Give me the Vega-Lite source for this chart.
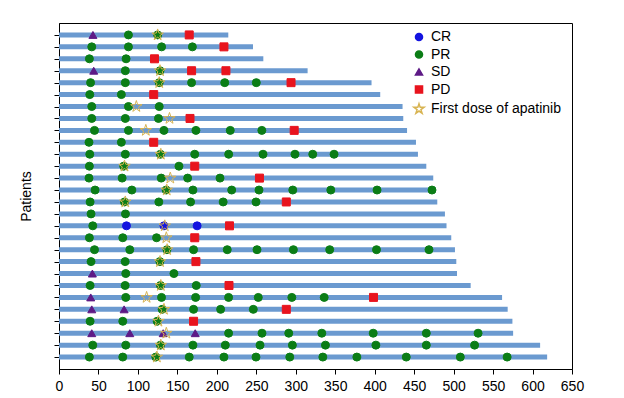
{
  "$schema": "https://vega.github.io/schema/vega-lite/v6.json",
  "width": 513,
  "height": 346,
  "padding": {"left": 19, "top": 23, "right": 10, "bottom": 5},
  "background": "white",
  "config": {
    "view": {"stroke": "black", "strokeWidth": 1},
    "font": "Liberation Sans",
    "axis": {"labelFont": "Liberation Sans", "titleFont": "Liberation Sans", "labelColor": "black", "titleColor": "black", "domainColor": "black", "tickColor": "black", "grid": false, "labelFontSize": 14, "titleFontSize": 14, "titleFontWeight": "normal", "tickSize": 5},
    "legend": {"labelFont": "Liberation Sans", "labelFontSize": 14, "labelColor": "black"}
  },
  "datasets": {
    "bars": [
      {"patient": 1, "end": 214.5}, {"patient": 2, "end": 245.8}, {"patient": 3, "end": 258.9}, {"patient": 4, "end": 315},
      {"patient": 5, "end": 396}, {"patient": 6, "end": 407}, {"patient": 7, "end": 435.3}, {"patient": 8, "end": 436.2},
      {"patient": 9, "end": 441}, {"patient": 10, "end": 452.3}, {"patient": 11, "end": 454.8}, {"patient": 12, "end": 465.4},
      {"patient": 13, "end": 474.2}, {"patient": 14, "end": 477.6}, {"patient": 15, "end": 479.3}, {"patient": 16, "end": 489},
      {"patient": 17, "end": 491}, {"patient": 18, "end": 497}, {"patient": 19, "end": 501.7}, {"patient": 20, "end": 503.4},
      {"patient": 21, "end": 504.3}, {"patient": 22, "end": 521.6}, {"patient": 23, "end": 561.4}, {"patient": 24, "end": 568.5},
      {"patient": 25, "end": 574.5}, {"patient": 26, "end": 575.4}, {"patient": 27, "end": 609.6}, {"patient": 28, "end": 618.5}
    ],
    "marks": [
      {"patient": 1, "day": 43, "type": "SD"}, {"patient": 1, "day": 88, "type": "PR"}, {"patient": 1, "day": 125, "type": "PR"}, {"patient": 1, "day": 165, "type": "PD"},
      {"patient": 2, "day": 41.5, "type": "PR"}, {"patient": 2, "day": 88, "type": "PR"}, {"patient": 2, "day": 130, "type": "PR"}, {"patient": 2, "day": 169, "type": "PR"}, {"patient": 2, "day": 209, "type": "PD"},
      {"patient": 3, "day": 38.5, "type": "PR"}, {"patient": 3, "day": 85, "type": "PR"}, {"patient": 3, "day": 121, "type": "PD"},
      {"patient": 4, "day": 44, "type": "SD"}, {"patient": 4, "day": 84, "type": "PR"}, {"patient": 4, "day": 128, "type": "PR"}, {"patient": 4, "day": 168, "type": "PD"}, {"patient": 4, "day": 211.5, "type": "PD"},
      {"patient": 5, "day": 40, "type": "PR"}, {"patient": 5, "day": 84, "type": "PR"}, {"patient": 5, "day": 127, "type": "PR"}, {"patient": 5, "day": 168, "type": "PR"}, {"patient": 5, "day": 210, "type": "PR"}, {"patient": 5, "day": 250, "type": "PR"}, {"patient": 5, "day": 294, "type": "PD"},
      {"patient": 6, "day": 39, "type": "PR"}, {"patient": 6, "day": 79, "type": "PR"}, {"patient": 6, "day": 120, "type": "PD"},
      {"patient": 7, "day": 41.5, "type": "PR"}, {"patient": 7, "day": 88, "type": "PR"}, {"patient": 7, "day": 127, "type": "PR"},
      {"patient": 8, "day": 41.5, "type": "PR"}, {"patient": 8, "day": 84, "type": "PR"}, {"patient": 8, "day": 126, "type": "PR"}, {"patient": 8, "day": 166, "type": "PD"},
      {"patient": 9, "day": 45, "type": "PR"}, {"patient": 9, "day": 88, "type": "PR"}, {"patient": 9, "day": 133, "type": "PR"}, {"patient": 9, "day": 173.5, "type": "PR"}, {"patient": 9, "day": 217, "type": "PR"}, {"patient": 9, "day": 257, "type": "PR"}, {"patient": 9, "day": 298, "type": "PD"},
      {"patient": 10, "day": 38, "type": "PR"}, {"patient": 10, "day": 79, "type": "PR"}, {"patient": 10, "day": 120, "type": "PD"},
      {"patient": 11, "day": 39, "type": "PR"}, {"patient": 11, "day": 84, "type": "PR"}, {"patient": 11, "day": 128.5, "type": "PR"}, {"patient": 11, "day": 172, "type": "PR"}, {"patient": 11, "day": 215, "type": "PR"}, {"patient": 11, "day": 258.5, "type": "PR"}, {"patient": 11, "day": 299, "type": "PR"}, {"patient": 11, "day": 321.5, "type": "PR"}, {"patient": 11, "day": 348.5, "type": "PR"},
      {"patient": 12, "day": 38.5, "type": "PR"}, {"patient": 12, "day": 82, "type": "PR"}, {"patient": 12, "day": 152, "type": "PR"}, {"patient": 12, "day": 172, "type": "PD"},
      {"patient": 13, "day": 38, "type": "PR"}, {"patient": 13, "day": 80, "type": "PR"}, {"patient": 13, "day": 129.5, "type": "PR"}, {"patient": 13, "day": 163, "type": "PR"}, {"patient": 13, "day": 204, "type": "PR"}, {"patient": 13, "day": 254, "type": "PD"},
      {"patient": 14, "day": 45.7, "type": "PR"}, {"patient": 14, "day": 92.3, "type": "PR"}, {"patient": 14, "day": 135.8, "type": "PR"}, {"patient": 14, "day": 169.7, "type": "PR"}, {"patient": 14, "day": 218.8, "type": "PR"}, {"patient": 14, "day": 253.4, "type": "PR"}, {"patient": 14, "day": 296.2, "type": "PR"}, {"patient": 14, "day": 344.4, "type": "PR"}, {"patient": 14, "day": 403, "type": "PR"}, {"patient": 14, "day": 472.6, "type": "PR"},
      {"patient": 15, "day": 39.4, "type": "PR"}, {"patient": 15, "day": 83, "type": "PR"}, {"patient": 15, "day": 126.5, "type": "PR"}, {"patient": 15, "day": 166.7, "type": "PR"}, {"patient": 15, "day": 208, "type": "PR"}, {"patient": 15, "day": 249.6, "type": "PR"}, {"patient": 15, "day": 288, "type": "PD"},
      {"patient": 16, "day": 40.6, "type": "PR"}, {"patient": 16, "day": 84.2, "type": "PR"},
      {"patient": 17, "day": 42.8, "type": "PR"}, {"patient": 17, "day": 85.5, "type": "CR"}, {"patient": 17, "day": 133, "type": "CR"}, {"patient": 17, "day": 175, "type": "CR"}, {"patient": 17, "day": 216, "type": "PD"},
      {"patient": 18, "day": 38.5, "type": "PR"}, {"patient": 18, "day": 80.8, "type": "PR"}, {"patient": 18, "day": 123.6, "type": "PR"}, {"patient": 18, "day": 172, "type": "PD"},
      {"patient": 19, "day": 45, "type": "PR"}, {"patient": 19, "day": 89.7, "type": "PR"}, {"patient": 19, "day": 136.8, "type": "PR"}, {"patient": 19, "day": 170.5, "type": "PR"}, {"patient": 19, "day": 213.2, "type": "PR"}, {"patient": 19, "day": 250.9, "type": "PR"}, {"patient": 19, "day": 297, "type": "PR"}, {"patient": 19, "day": 343, "type": "PR"}, {"patient": 19, "day": 402.3, "type": "PR"}, {"patient": 19, "day": 468.8, "type": "PR"},
      {"patient": 20, "day": 40.6, "type": "PR"}, {"patient": 20, "day": 83.8, "type": "PR"}, {"patient": 20, "day": 127.8, "type": "PR"}, {"patient": 20, "day": 173.5, "type": "PD"},
      {"patient": 21, "day": 42.3, "type": "SD"}, {"patient": 21, "day": 84.6, "type": "PR"}, {"patient": 21, "day": 145.6, "type": "PR"},
      {"patient": 22, "day": 39.4, "type": "PR"}, {"patient": 22, "day": 83.8, "type": "PR"}, {"patient": 22, "day": 128.6, "type": "PR"}, {"patient": 22, "day": 173.9, "type": "PR"}, {"patient": 22, "day": 215.4, "type": "PD"},
      {"patient": 23, "day": 40.2, "type": "SD"}, {"patient": 23, "day": 84.6, "type": "PR"}, {"patient": 23, "day": 129.9, "type": "PR"}, {"patient": 23, "day": 173.1, "type": "PR"}, {"patient": 23, "day": 214.9, "type": "PR"}, {"patient": 23, "day": 252.5, "type": "PR"}, {"patient": 23, "day": 295, "type": "PR"}, {"patient": 23, "day": 336, "type": "PR"}, {"patient": 23, "day": 398.5, "type": "PD"},
      {"patient": 24, "day": 41.5, "type": "SD"}, {"patient": 24, "day": 82.5, "type": "SD"}, {"patient": 24, "day": 130.7, "type": "PR"}, {"patient": 24, "day": 170.5, "type": "PR"}, {"patient": 24, "day": 204.8, "type": "PR"}, {"patient": 24, "day": 246.2, "type": "PR"}, {"patient": 24, "day": 288, "type": "PD"},
      {"patient": 25, "day": 39.4, "type": "PR"}, {"patient": 25, "day": 80.8, "type": "PR"}, {"patient": 25, "day": 124.4, "type": "PR"}, {"patient": 25, "day": 170.5, "type": "PD"},
      {"patient": 26, "day": 41.5, "type": "SD"}, {"patient": 26, "day": 89.7, "type": "SD"}, {"patient": 26, "day": 132, "type": "SD"}, {"patient": 26, "day": 172.6, "type": "SD"}, {"patient": 26, "day": 214.9, "type": "PR"}, {"patient": 26, "day": 257.2, "type": "PR"}, {"patient": 26, "day": 291.1, "type": "PR"}, {"patient": 26, "day": 333, "type": "PR"}, {"patient": 26, "day": 398.1, "type": "PR"}, {"patient": 26, "day": 465.4, "type": "PR"}, {"patient": 26, "day": 531, "type": "PR"},
      {"patient": 27, "day": 42.8, "type": "PR"}, {"patient": 27, "day": 84.6, "type": "PR"}, {"patient": 27, "day": 128.6, "type": "PR"}, {"patient": 27, "day": 169.7, "type": "PR"}, {"patient": 27, "day": 210.7, "type": "PR"}, {"patient": 27, "day": 254.7, "type": "PR"}, {"patient": 27, "day": 295.7, "type": "PR"}, {"patient": 27, "day": 337.6, "type": "PR"}, {"patient": 27, "day": 401.5, "type": "PR"}, {"patient": 27, "day": 465.4, "type": "PR"}, {"patient": 27, "day": 526.6, "type": "PR"},
      {"patient": 28, "day": 38.5, "type": "PR"}, {"patient": 28, "day": 80.8, "type": "PR"}, {"patient": 28, "day": 122.7, "type": "PR"}, {"patient": 28, "day": 165, "type": "PR"}, {"patient": 28, "day": 209, "type": "PR"}, {"patient": 28, "day": 249.6, "type": "PR"}, {"patient": 28, "day": 292.4, "type": "PR"}, {"patient": 28, "day": 334.3, "type": "PR"}, {"patient": 28, "day": 377.4, "type": "PR"}, {"patient": 28, "day": 440, "type": "PR"}, {"patient": 28, "day": 508.5, "type": "PR"}, {"patient": 28, "day": 567.8, "type": "PR"},
      {"patient": 1, "day": 125, "type": "First dose of apatinib"}, {"patient": 4, "day": 128, "type": "First dose of apatinib"}, {"patient": 5, "day": 127, "type": "First dose of apatinib"},
      {"patient": 7, "day": 98, "type": "First dose of apatinib"}, {"patient": 8, "day": 140, "type": "First dose of apatinib"}, {"patient": 9, "day": 110, "type": "First dose of apatinib"},
      {"patient": 11, "day": 129, "type": "First dose of apatinib"}, {"patient": 12, "day": 83, "type": "First dose of apatinib"}, {"patient": 13, "day": 141, "type": "First dose of apatinib"},
      {"patient": 14, "day": 136.5, "type": "First dose of apatinib"}, {"patient": 15, "day": 84, "type": "First dose of apatinib"}, {"patient": 17, "day": 134, "type": "First dose of apatinib"},
      {"patient": 18, "day": 136, "type": "First dose of apatinib"}, {"patient": 19, "day": 137, "type": "First dose of apatinib"}, {"patient": 20, "day": 128, "type": "First dose of apatinib"},
      {"patient": 22, "day": 129, "type": "First dose of apatinib"}, {"patient": 23, "day": 111, "type": "First dose of apatinib"}, {"patient": 24, "day": 133, "type": "First dose of apatinib"},
      {"patient": 25, "day": 126, "type": "First dose of apatinib"}, {"patient": 26, "day": 136, "type": "First dose of apatinib"}, {"patient": 27, "day": 129, "type": "First dose of apatinib"},
      {"patient": 28, "day": 124, "type": "First dose of apatinib"}
    ]
  },
  "layer": [
    {
      "data": {"name": "bars"},
      "mark": {"type": "rule", "strokeWidth": 5, "color": "#6b9ad0", "strokeCap": "butt"},
      "encoding": {
        "y": {
          "field": "patient", "type": "quantitative",
          "scale": {"domain": [0, 29], "reverse": true, "nice": false, "zero": false},
          "axis": {"title": "Patients", "labels": false, "orient": "left", "values": [1,2,3,4,5,6,7,8,9,10,11,12,13,14,15,16,17,18,19,20,21,22,23,24,25,26,27,28], "titlePadding": 20}
        },
        "x": {"field": "end", "type": "quantitative", "scale": {"domain": [0, 650], "nice": false}, "axis": {"title": null, "orient": "bottom", "values": [0,50,100,150,200,250,300,350,400,450,500,550,600,650], "labelPadding": 5, "labelOverlap": false, "labelFlush": false}},
        "x2": {"datum": 0}
      }
    },
    {
      "data": {"name": "marks"},
      "mark": {"type": "point", "opacity": 1, "strokeWidth": 1, "size": 64},
      "encoding": {
        "y": {"field": "patient", "type": "quantitative", "axis": {"title": "Patients", "labels": false, "orient": "left", "values": [1,2,3,4,5,6,7,8,9,10,11,12,13,14,15,16,17,18,19,20,21,22,23,24,25,26,27,28], "titlePadding": 20}},
        "x": {"field": "day", "type": "quantitative", "axis": {"title": null, "orient": "bottom", "values": [0,50,100,150,200,250,300,350,400,450,500,550,600,650], "labelPadding": 5, "labelOverlap": false, "labelFlush": false}},
        "fill": {"field": "type", "type": "nominal", "scale": {"domain": ["CR", "PR", "SD", "PD", "First dose of apatinib"], "range": ["#1414e0", "#0b7d16", "#5e1a86", "#e8141e", "transparent"]}, "legend": {"title": null, "orient": "none", "legendX": 353, "legendY": 7, "rowPadding": 3.5, "symbolSize": 50, "labelOffset": 5}},
        "stroke": {"field": "type", "type": "nominal", "scale": {"domain": ["CR", "PR", "SD", "PD", "First dose of apatinib"], "range": ["#1414e0", "#0b7d16", "#5e1a86", "#e8141e", "#d8b452"]}, "legend": {"title": null}},
        "shape": {"field": "type", "type": "nominal", "scale": {"domain": ["CR", "PR", "SD", "PD", "First dose of apatinib"], "range": ["circle", "circle", "triangle-up", "square", "M0,-1.5L0.338,-0.464L1.427,-0.464L0.545,0.177L0.882,1.214L0,0.573L-0.882,1.214L-0.545,0.177L-1.427,-0.464L-0.338,-0.464Z"]}, "legend": {"title": null}}
      }
    }
  ]
}
